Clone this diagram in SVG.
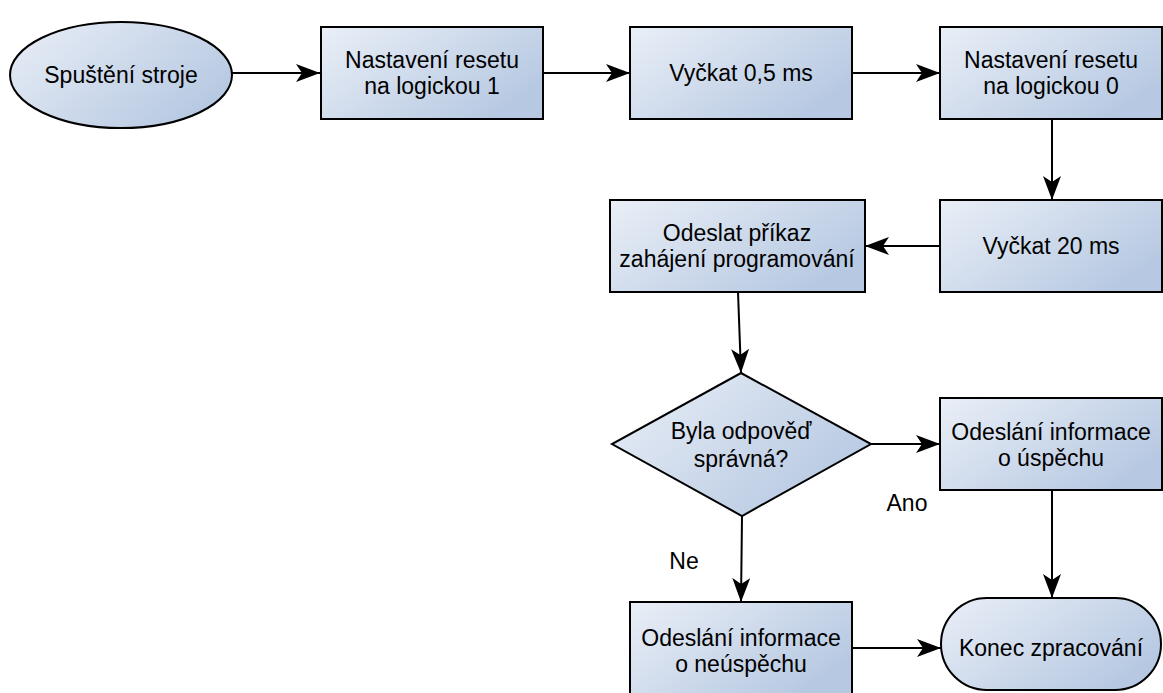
<svg xmlns="http://www.w3.org/2000/svg" width="1163" height="693" viewBox="0 0 1163 693">
  <defs>
    <linearGradient id="fill" x1="0" y1="0" x2="1" y2="0.6">
      <stop offset="0" stop-color="#eaeff7"/>
      <stop offset="1" stop-color="#b7c9e2"/>
    </linearGradient>
    <marker id="arrow" viewBox="0 0 24 18" refX="24" refY="9" markerWidth="24" markerHeight="18" markerUnits="userSpaceOnUse" orient="auto">
      <path d="M0,0 L24,9 L0,18 L6,9 Z" fill="#000"/>
    </marker>
    <style>
      .shape { fill: url(#fill); stroke: #000; stroke-width: 2; }
      .edge { fill: none; stroke: #000; stroke-width: 2; marker-end: url(#arrow); }
      text { font-family: "Liberation Sans", Arial, sans-serif; font-size: 23px; fill: #000; text-anchor: middle; }
    </style>
  </defs>

  <!-- connectors -->
  <g id="connectors">
    <line class="edge" x1="232" y1="73" x2="320" y2="73"/>
    <line class="edge" x1="543" y1="73" x2="630" y2="73"/>
    <line class="edge" x1="852" y1="73" x2="940" y2="73"/>
    <line class="edge" x1="1052" y1="119" x2="1052" y2="200"/>
    <line class="edge" x1="940" y1="246" x2="865" y2="246"/>
    <line class="edge" x1="738" y1="292" x2="741" y2="373"/>
    <line class="edge" x1="871" y1="444" x2="940" y2="444"/>
    <line class="edge" x1="742" y1="516" x2="741" y2="602"/>
    <line class="edge" x1="1052" y1="490" x2="1052" y2="598"/>
    <line class="edge" x1="852" y1="648" x2="941" y2="648"/>
    <text x="907" y="511">Ano</text>
    <text x="684" y="569">Ne</text>
  </g>

  <g id="start">
    <ellipse class="shape" cx="121" cy="75" rx="111" ry="53"/>
    <text x="121" y="83">Spuštění stroje</text>
  </g>

  <g id="reset1">
    <rect class="shape" x="321" y="27" width="222" height="92"/>
    <text x="432" y="68">Nastavení resetu</text>
    <text x="432" y="94">na logickou 1</text>
  </g>

  <g id="wait05">
    <rect class="shape" x="630" y="27" width="222" height="92"/>
    <text x="741" y="81">Vyčkat 0,5 ms</text>
  </g>

  <g id="reset0">
    <rect class="shape" x="940" y="27" width="222" height="92"/>
    <text x="1051" y="68">Nastavení resetu</text>
    <text x="1051" y="94">na logickou 0</text>
  </g>

  <g id="wait20">
    <rect class="shape" x="940" y="200" width="222" height="92"/>
    <text x="1051" y="254">Vyčkat 20 ms</text>
  </g>

  <g id="sendCommand">
    <rect class="shape" x="610" y="200" width="255" height="92"/>
    <text x="737" y="241">Odeslat příkaz</text>
    <text x="737" y="267">zahájení programování</text>
  </g>

  <g id="decision">
    <polygon class="shape" points="741,373 871,444 742,516 612,444"/>
    <text x="741" y="439">Byla odpověď</text>
    <text x="741" y="467">správná?</text>
  </g>

  <g id="success">
    <rect class="shape" x="940" y="398" width="222" height="92"/>
    <text x="1051" y="440">Odeslání informace</text>
    <text x="1051" y="466">o úspěchu</text>
  </g>

  <g id="failure">
    <rect class="shape" x="630" y="602" width="222" height="92"/>
    <text x="741" y="646">Odeslání informace</text>
    <text x="741" y="672">o neúspěchu</text>
  </g>

  <g id="end">
    <rect class="shape" x="941" y="598" width="220" height="92" rx="46" ry="46"/>
    <text x="1051" y="656">Konec zpracování</text>
  </g>
</svg>
